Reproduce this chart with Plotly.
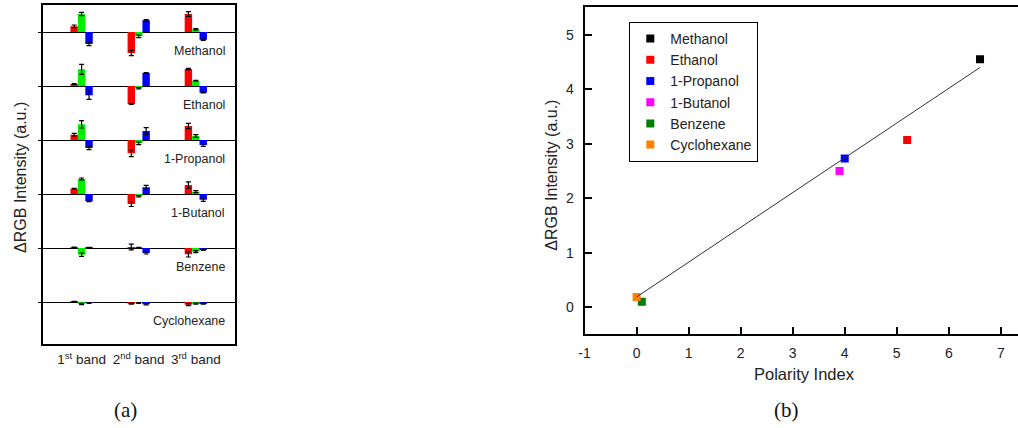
import plotly.graph_objects as go

# ---------------- Panel (a) data ----------------
solvents = ["Methanol", "Ethanol", "1-Propanol", "1-Butanol", "Benzene", "Cyclohexane"]
band_labels = ["1<sup>st</sup> band", "2<sup>nd</sup> band", "3<sup>rd</sup> band"]
band_pos = [1, 2, 3]

# values per solvent (rows) and band (columns), arbitrary units
red_vals = [[5.7, -21.0, 18.0], [2.0, -18.0, 17.0], [5.3, -13.3, 14.0],
            [5.3, -10.0, 9.0], [0.3, 1.0, -6.3], [0.3, -1.7, -2.7]]
green_vals = [[18.0, -4.3, 2.7], [16.7, -2.3, 5.3], [15.7, -3.3, 4.0],
              [15.0, -2.3, 2.3], [-6.7, 0.3, -3.7], [-2.0, -1.0, -1.7]]
blue_vals = [[-12.0, 11.7, -7.7], [-9.3, 13.0, -6.7], [-8.0, 9.0, -5.0],
             [-7.3, 6.7, -5.7], [0.3, -5.0, -1.7], [-1.0, -2.3, -1.7]]

red_err = [[1.3, 2.7, 2.3], [0.3, 0.3, 0.7], [1.3, 3.3, 2.7],
           [0.3, 2.5, 3.2], [0.5, 2.8, 2.7], [0.3, 0.5, 1.0]]
green_err = [[1.7, 1.3, 0.7], [5.0, 0.7, 0.3], [3.7, 1.3, 1.3],
             [1.0, 0.7, 1.0], [1.7, 0.3, 1.0], [0.7, 0.3, 0.5]]
blue_err = [[1.7, 0.7, 0.7], [4.0, 0.3, 0.3], [1.7, 3.3, 1.3],
            [0.3, 2.0, 1.7], [0.3, 1.0, 0.7], [0.3, 0.7, 0.5]]

row_step = 54.0  # vertical spacing between solvent baselines (a.u.)

# ---------------- Panel (b) data ----------------
polarity_index = [6.6, 5.2, 4.0, 3.9, 0.1, 0.0]
rgb_intensity = [4.55, 3.07, 2.73, 2.50, 0.10, 0.19]
point_colors = ["#000000", "#ff0000", "#0000ff", "#ff00ff", "#008000", "#ff8000"]
fit_slope = 0.638
fit_intercept = 0.19
fit_x = [0.0, 6.6]
x2_ticks = [-1, 0, 1, 2, 3, 4, 5, 6, 7]
y2_ticks = [0, 1, 2, 3, 4, 5]

W, H = 1018, 428
FONT = "Arial, 'Liberation Sans', sans-serif"
SERIF = "'Times New Roman', 'Liberation Serif', serif"


def px_x(p):
    return p / W


def px_y(p):
    return 1 - p / H


fig = go.Figure()

# ---- Panel (a): bars ----
offsets = [-i * row_step for i in range(len(solvents))]
xs, bases = [], []
for i, s in enumerate(solvents):
    for b in band_pos:
        xs.append(b)
        bases.append(offsets[i])

for vals, errs, col, nm in [(red_vals, red_err, "#ff0000", "R"),
                            (green_vals, green_err, "#00ee00", "G"),
                            (blue_vals, blue_err, "#0000ff", "B")]:
    flat_v = [v for row in vals for v in row]
    flat_e = [e for row in errs for e in row]
    fig.add_trace(go.Bar(
        x=xs, y=flat_v, base=bases, name=nm, showlegend=False,
        marker=dict(color=col, line=dict(width=0)),
        error_y=dict(type="data", array=flat_e, color="black", thickness=1.2, width=2.5),
        xaxis="x", yaxis="y",
    ))

for i, s in enumerate(solvents):
    fig.add_annotation(text=s, xref="x domain", yref="y", x=0.96, y=offsets[i] - 19,
                       xanchor="right", yanchor="middle", showarrow=False,
                       font=dict(family=FONT, size=12.5, color="#222"))

# ---- Panel (b): scatter ----
for name, xv, yv, c in zip(solvents, polarity_index, rgb_intensity, point_colors):
    fig.add_trace(go.Scatter(
        x=[xv], y=[yv], mode="markers", name=name,
        marker=dict(symbol="square", size=8, color=c, line=dict(width=0)),
        xaxis="x2", yaxis="y2",
    ))

fig.add_trace(go.Scatter(
    x=fit_x, y=[fit_intercept + fit_slope * v for v in fit_x], mode="lines",
    line=dict(color="#333333", width=1), showlegend=False, hoverinfo="skip",
    xaxis="x2", yaxis="y2",
))

# ---- titles / labels ----
fig.add_annotation(text="ΔRGB Intensity (a.u.)", xref="paper", yref="paper",
                   x=px_x(15), y=px_y(177), textangle=-90, showarrow=False,
                   xanchor="center", yanchor="middle",
                   font=dict(family=FONT, size=16, color="#222"))
fig.add_annotation(text="ΔRGB Intensity (a.u.)", xref="paper", yref="paper",
                   x=px_x(548), y=px_y(175), textangle=-90, showarrow=False,
                   xanchor="center", yanchor="middle",
                   font=dict(family=FONT, size=16, color="#222"))
fig.add_annotation(text="Polarity Index", xref="paper", yref="paper",
                   x=px_x(803), y=px_y(374), showarrow=False,
                   xanchor="center", yanchor="middle",
                   font=dict(family=FONT, size=16.5, color="#222"))
fig.add_annotation(text="(a)", xref="paper", yref="paper",
                   x=px_x(120), y=px_y(410), showarrow=False,
                   xanchor="center", yanchor="middle",
                   font=dict(family=SERIF, size=21, color="#111"))
fig.add_annotation(text="(b)", xref="paper", yref="paper",
                   x=px_x(785), y=px_y(410), showarrow=False,
                   xanchor="center", yanchor="middle",
                   font=dict(family=SERIF, size=21, color="#111"))

fig.update_layout(
    width=W, height=H, margin=dict(l=0, r=0, t=0, b=0),
    paper_bgcolor="white", plot_bgcolor="white",
    barmode="group", bargap=0.61, bargroupgap=0,
    font=dict(family=FONT, color="#222"),
    xaxis=dict(domain=[px_x(37), px_x(230)], range=[0.32, 3.68],
               tickvals=band_pos, ticktext=band_labels, ticks="",
               showline=True, linecolor="black", linewidth=2, mirror=True,
               showgrid=False, zeroline=False, ticklabelstandoff=2,
               tickfont=dict(family=FONT, size=13.5, color="#222"), anchor="y"),
    yaxis=dict(domain=[px_y(344), px_y(5)],
               range=[offsets[-1] - 42, 27],
               tickvals=offsets, showticklabels=False, ticks="outside", ticklen=3,
               tickcolor="black", tickwidth=1.3,
               showgrid=True, gridcolor="black", gridwidth=1.3,
               showline=True, linecolor="black", linewidth=2, mirror=True,
               zeroline=False, anchor="x"),
    xaxis2=dict(domain=[px_x(582), 1.0], range=[-1, 7.33],
                tickvals=x2_ticks, ticktext=[str(v) for v in x2_ticks],
                ticks="inside", ticklen=7, tickwidth=1.5,
                tickcolor="black", showline=True, linecolor="black", linewidth=2,
                mirror=True, showgrid=False, zeroline=False, ticklabelstandoff=5,
                tickfont=dict(family=FONT, size=14, color="#222"), anchor="y2"),
    yaxis2=dict(domain=[px_y(334), px_y(7)], range=[-0.49, 5.51],
                tickvals=y2_ticks, ticks="inside", ticklen=7, tickwidth=1.5,
                tickcolor="black", showline=True, linecolor="black", linewidth=2,
                mirror=False, showgrid=False, zeroline=False, ticklabelstandoff=6,
                tickfont=dict(family=FONT, size=14, color="#222"), anchor="x2"),
    legend=dict(x=px_x(627), y=px_y(22), xanchor="left", yanchor="top",
                bordercolor="black", borderwidth=1, bgcolor="white",
                font=dict(family=FONT, size=14, color="#222"),
                tracegroupgap=0),
)

fig.write_html("out.html", config={"displayModeBar": False},
               post_script="document.body.style.margin='0';document.body.style.overflow='hidden';")
